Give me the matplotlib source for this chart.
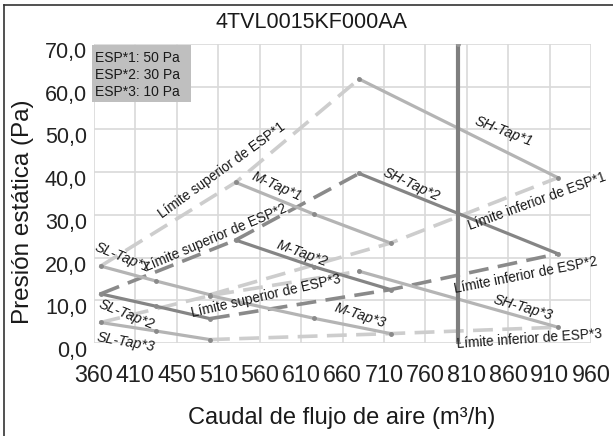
import matplotlib.pyplot as plt
from matplotlib.patches import Rectangle
from matplotlib.transforms import ScaledTranslation

# --- Données ---
titre = "4TVL0015KF000AA"
x_ticks = [360, 410, 460, 510, 560, 610, 660, 710, 760, 810, 860, 910, 960]
x_labels = ["360", "410", "450", "510", "560", "610", "660", "710", "760",
            "810", "860", "910", "960"]
y_ticks = [0, 10, 20, 30, 40, 50, 60, 70]
y_labels = ["0,0", "10,0", "20,0", "30,0", "40,0", "50,0", "60,0", "70,0"]

sl_x = [368, 435, 500]
m_x = [531, 625, 718]
m3_x = [500, 625, 718]
sh_x = [680, 920]

sl_tap1 = [18.0, 14.5, 11.3]
sl_tap2 = [11.5, 8.6, 5.7]
sl_tap3 = [4.8, 2.8, 0.8]
m_tap1 = [37.6, 30.2, 23.4]
m_tap2 = [24.1, 17.9, 12.5]
m_tap3 = [11.1, 5.8, 2.2]
sh_tap1 = [61.8, 38.7]
sh_tap2 = [39.7, 20.9]
sh_tap3 = [16.8, 3.7]

caudal_max = 800
presion_max = [0, 70]

leyenda = ["ESP*1: 50 Pa", "ESP*2: 30 Pa", "ESP*3: 10 Pa"]

# --- Couleurs ---
gris_clair = '#b4b4b4'
gris_fonce = '#858585'
tiret_clair = '#cdcdcd'
tiret_fonce = '#8a8a8a'

fig = plt.figure(figsize=(6.13, 4.36), dpi=100)
ax = fig.add_axes([94 / 613, 1 - 343 / 436, (591 - 94) / 613, (343 - 44) / 436])

# séries : (x, y, couleur solide, couleur tiret)
series = [
    (sl_x, sl_tap1, m_x, m_tap1, sh_x, sh_tap1, gris_clair, tiret_clair),
    (sl_x, sl_tap2, m_x, m_tap2, sh_x, sh_tap2, gris_fonce, tiret_fonce),
    (sl_x, sl_tap3, m3_x, m_tap3, sh_x, sh_tap3, gris_clair, tiret_clair),
]

dash = (0, (5.5, 2.6))
for slx, sly, mx, my, shx, shy, c, ct in series:
    # limites supérieure / inférieure (tirets)
    ax.plot([slx[0], mx[0], shx[0]], [sly[0], my[0], shy[0]], color=ct,
            lw=2.6, linestyle=dash, zorder=2)
    ax.plot([slx[-1], mx[-1], shx[-1]], [sly[-1], my[-1], shy[-1]], color=ct,
            lw=2.6, linestyle=dash, zorder=2)
for slx, sly, mx, my, shx, shy, c, ct in series:
    for xx, yy in [(slx, sly), (mx, my), (shx, shy)]:
        ax.plot(xx, yy, color=c, lw=2.3, zorder=3, marker='o', markersize=2.5,
                markerfacecolor='#8a8a8a', markeredgecolor='#8a8a8a')

# ligne verticale (débit max)
ax.plot([caudal_max, caudal_max], presion_max, color='#7f7f7f', lw=3.0,
        zorder=4, marker='o', markersize=2.5, markerfacecolor='#9a9a9a',
        markeredgecolor='#9a9a9a')

ax.set_xlim(360, 960)
ax.set_ylim(0, 70)
ax.set_xticks(x_ticks)
ax.set_xticklabels(x_labels, fontsize=16.8, family='Liberation Sans')
ax.set_yticks(y_ticks)
ax.set_yticklabels(y_labels, fontsize=15.5, family='Liberation Sans')
ax.tick_params(length=0, colors='#222222')
ax.tick_params(axis='x', pad=15)
ax.tick_params(axis='y', pad=5)
for lab in ax.get_yticklabels():
    lab.set_transform(lab.get_transform() + ScaledTranslation(0, -6 / 100, fig.dpi_scale_trans))
ax.grid(True, color='#d9d9d9', lw=1.2, zorder=0)
ax.set_axisbelow(True)
for s in ax.spines.values():
    s.set_visible(False)
ax.patch.set_alpha(0)

# --- Étiquettes dans le graphique ---
etiquettes = [
    ("Límite superior de ESP*1", 514, 40.3, 36, 'normal'),
    ("Límite superior de ESP*2", 507, 24.6, 23, 'normal'),
    ("Límite superior de ESP*3", 568, 11.1, 13, 'normal'),
    ("Límite inferior de ESP*1", 895, 33.2, 20, 'normal'),
    ("Límite inferior de ESP*2", 881, 15.8, 11, 'normal'),
    ("Límite inferior de ESP*3", 885, 0.9, 4, 'normal'),
    ("SH-Tap*1", 855, 49.6, -21, 'italic'),
    ("SH-Tap*2", 743, 37.0, -25, 'italic'),
    ("SH-Tap*3", 878, 8.3, -16, 'italic'),
    ("M-Tap*1", 580, 36.6, -24, 'italic'),
    ("M-Tap*2", 611, 21.0, -20, 'italic'),
    ("M-Tap*3", 681, 6.5, -18, 'italic'),
    ("SL-Tap*1", 394, 20.0, -22, 'italic'),
    ("SL-Tap*2", 399, 6.7, -22, 'italic'),
    ("SL-Tap*3", 398, 0.2, -10, 'italic'),
]
for txt, tx, ty, rot, st in etiquettes:
    ax.text(tx, ty, txt, rotation=rot, ha='center', va='center',
            fontsize=9.8 if st == 'normal' else 10.3,
            family='Liberation Sans', style=st, color='#1a1a1a', zorder=6,
            rotation_mode='anchor')

# --- Titre et axes ---
fig.text(312 / 613, 1 - 22 / 436, titre, ha='center', va='center',
         fontsize=15.5, family='Liberation Sans', color='#1a1a1a')
fig.text(342 / 613, 1 - 418 / 436, "Caudal de flujo de aire (m³/h)",
         ha='center', va='center', fontsize=17, family='Liberation Sans',
         color='#1a1a1a')
fig.text(23 / 613, 1 - 212 / 436, "Presión estática (Pa)", rotation=90,
         ha='center', va='center', fontsize=17.5, family='Liberation Sans',
         color='#1a1a1a')

# --- Boîte de légende grise ---
fig.patches.append(Rectangle((92 / 613, 1 - 102 / 436), 99 / 613, 57 / 436,
                             transform=fig.transFigure, facecolor='#bfbfbf',
                             edgecolor='none', zorder=5))
for i, ligne in enumerate(leyenda):
    fig.text(95 / 613, 1 - (58 + 17 * i) / 436, ligne, ha='left', va='center',
             fontsize=10, family='Liberation Sans', color='#1a1a1a', zorder=6)

# --- Cadre ---
fig.add_artist(plt.Line2D([4 / 613, 4 / 613], [0, 1 - 5 / 436], color='#333333',
                          lw=1.2, transform=fig.transFigure))
fig.add_artist(plt.Line2D([4 / 613, 1], [1 - 5 / 436, 1 - 5 / 436], color='#333333',
                          lw=1.2, transform=fig.transFigure))

fig.savefig('out.png', dpi=100)
